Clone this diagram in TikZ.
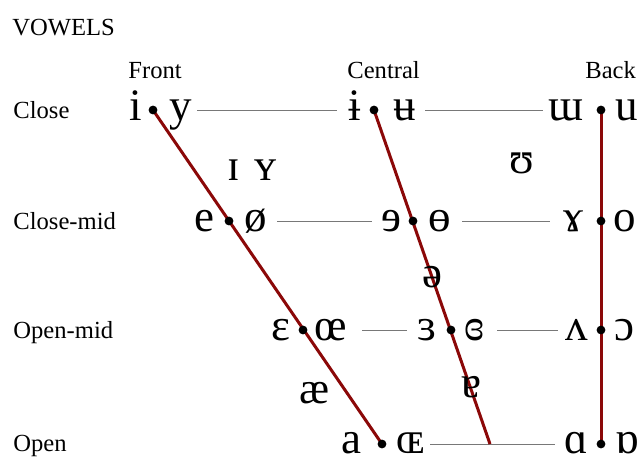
\documentclass[tikz,border=0pt]{standalone}
\usepackage{fontspec}
\setmainfont{Liberation Serif}
\newfontfamily\ipafont{Liberation Serif}
\usetikzlibrary{backgrounds}
\definecolor{vline}{RGB}{139,8,8}
\definecolor{gline}{RGB}{120,120,120}
\begin{document}
\begin{tikzpicture}[x=0.5pt,y=-0.5pt,
  lab/.style={font=\fontsize{12.3}{14}\selectfont, inner sep=0, anchor=base west},
  hd/.style={font=\fontsize{12.3}{14}\selectfont, inner sep=0, anchor=base west},
  sym/.style={font=\ipafont\fontsize{22.5}{24}\selectfont, inner sep=0, anchor=base},
  dotn/.style={circle, fill=black, inner sep=0, minimum size=4.4pt},
  rim/.style={draw=vline, line width=1.5pt},
  gridl/.style={draw=gline, line width=0.5pt}]
\useasboundingbox (0,0) rectangle (638,457);
% headings
\node[lab] (vow) at (12,35) {VOWELS};
\node[hd] (front) at (128,78) {Front};
\node[hd] (central) at (347,78) {Central};
\node[hd] (back) at (585,78) {Back};
\node[lab] (lclose) at (13,118) {Close};
\node[lab] (lclosemid) at (13,229) {Close-mid};
\node[lab] (lopenmid) at (13,338) {Open-mid};
\node[lab] (lopen) at (13,451) {Open};
% dots
\node[dotn] (d11) at (153,110) {};
\node[dotn] (d12) at (374,110) {};
\node[dotn] (d13) at (601,110) {};
\node[dotn] (d21) at (229,221) {};
\node[dotn] (d22) at (413,221) {};
\node[dotn] (d23) at (601,221) {};
\node[dotn] (d31) at (303,330) {};
\node[dotn] (d32) at (451,330) {};
\node[dotn] (d33) at (601,330) {};
\node[dotn] (d41) at (382,444) {};
\node[dotn] (d43) at (601,444) {};
\coordinate (cend) at (490,444);
% symbols
\node[sym] (s_i) at (136,120) {i};
\node[sym] (s_y) at (181,120) {y};
\node[sym] (s_ibar) at (355,120) {ɨ};
\node[sym] (s_ubar) at (405,120) {ʉ};
\node[sym] (s_mw) at (566,120) {ɯ};
\node[sym] (s_u) at (627,120) {u};
\node[sym] (s_I) at (234,180) {ɪ};
\node[sym] (s_Y) at (266,180) {ʏ};
\node[sym] (s_U) at (522,173) {ʊ};
\node[sym] (s_e) at (204,231) {e};
\node[sym] (s_o2) at (256,231) {ø};
\node[sym] (s_er) at (391,231) {ɘ};
\node[sym] (s_ob) at (440,231) {ɵ};
\node[sym] (s_ga) at (573,231) {ɤ};
\node[sym] (s_o) at (625,231) {o};
\node[sym] (s_schwa) at (432,287) {ə};
\node[sym] (s_eps) at (281,340) {ɛ};
\node[sym] (s_oe) at (331,340) {œ};
\node[sym] (s_rev) at (427,340) {ɜ};
\node[sym] (s_crev) at (474,340) {ɞ};
\node[sym] (s_wedge) at (577,340) {ʌ};
\node[sym] (s_oo) at (624,340) {ɔ};
\node[sym] (s_ae) at (315,403) {æ};
\node[sym] (s_turna) at (471,397) {ɐ};
\node[sym] (s_a) at (351,453) {a};
\node[sym] (s_OE) at (411,453) {ɶ};
\node[sym] (s_alpha) at (576,453) {ɑ};
\node[sym] (s_turnalpha) at (627,453) {ɒ};
% grid line ends
\coordinate (g1a) at (197,110); \coordinate (g1b) at (337,110);
\coordinate (g1c) at (425,110); \coordinate (g1d) at (543,110);
\coordinate (g2a) at (277,221); \coordinate (g2b) at (372,221);
\coordinate (g2c) at (462,221); \coordinate (g2d) at (550,221);
\coordinate (g3a) at (362,330); \coordinate (g3b) at (407,330);
\coordinate (g3c) at (497,330); \coordinate (g3d) at (558,330);
\coordinate (g4a) at (430,444); \coordinate (g4b) at (555,444);
\begin{scope}[on background layer]
\draw[gridl] (g1a) -- (g1b);
\draw[gridl] (g1c) -- (g1d);
\draw[gridl] (g2a) -- (g2b);
\draw[gridl] (g2c) -- (g2d);
\draw[gridl] (g3a) -- (g3b);
\draw[gridl] (g3c) -- (g3d);
\draw[gridl] (g4a) -- (g4b);
\draw[rim] (d11.center) -- (d41.center);
\draw[rim] (d12.center) -- (cend);
\draw[rim] (d13.center) -- (d43.center);
\end{scope}
\end{tikzpicture}
\end{document}
